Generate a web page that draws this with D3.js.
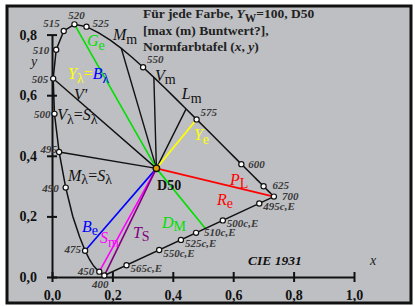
<!DOCTYPE html>
<html>
<head>
<meta charset="utf-8">
<script src="https://cdn.jsdelivr.net/npm/d3@7"></script>
<style>
  body { margin: 0; background: #fff; }
  svg text { font-family: "Liberation Serif", "Times New Roman", serif; }
</style>
</head>
<body>
<div id="chartDivId"></div>
<script>
// CIE 1931 spectral locus (2 deg), 400..700 nm
var waveNm = [400, 405, 410, 415, 420, 425, 430, 435, 440, 445, 450, 455, 460, 465, 470, 475, 480, 485, 490, 495,
    500, 505, 510, 515, 520, 525, 530, 535, 540, 545, 550, 555, 560, 565, 570, 575, 580, 585, 590, 595,
    600, 605, 610, 615, 620, 625, 630, 635, 640, 645, 650, 655, 660, 665, 670, 675, 680, 685, 690, 695, 700];
var locusX = [0.1733, 0.1730, 0.1726, 0.1721, 0.1714, 0.1703, 0.1689, 0.1669, 0.1644, 0.1611, 0.1566, 0.1510, 0.1440, 0.1355, 0.1241, 0.1096, 0.0913, 0.0687, 0.0454, 0.0235,
    0.0082, 0.0039, 0.0139, 0.0389, 0.0743, 0.1142, 0.1547, 0.1929, 0.2296, 0.2658, 0.3016, 0.3373, 0.3731, 0.4087, 0.4441, 0.4788, 0.5125, 0.5448, 0.5752, 0.6029,
    0.6270, 0.6482, 0.6658, 0.6801, 0.6915, 0.7006, 0.7079, 0.7140, 0.7190, 0.7230, 0.7260, 0.7283, 0.7300, 0.7311, 0.7320, 0.7327, 0.7334, 0.7340, 0.7344, 0.7346, 0.7347];
var locusY = [0.0048, 0.0048, 0.0048, 0.0048, 0.0051, 0.0058, 0.0069, 0.0086, 0.0109, 0.0138, 0.0177, 0.0227, 0.0297, 0.0399, 0.0578, 0.0868, 0.1327, 0.2007, 0.2950, 0.4127,
    0.5384, 0.6548, 0.7502, 0.8120, 0.8338, 0.8262, 0.8059, 0.7816, 0.7543, 0.7243, 0.6923, 0.6589, 0.6245, 0.5896, 0.5547, 0.5202, 0.4866, 0.4544, 0.4242, 0.3965,
    0.3725, 0.3514, 0.3340, 0.3197, 0.3083, 0.2993, 0.2920, 0.2859, 0.2809, 0.2770, 0.2740, 0.2717, 0.2700, 0.2689, 0.2680, 0.2673, 0.2666, 0.2660, 0.2656, 0.2654, 0.2653];

// marked wavelengths on the locus
var markedNm = [400, 450, 475, 490, 495, 500, 505, 510, 515, 520, 525, 550, 575, 600, 625, 700];

// complementary points (c,E) on the purple line
var complNames = ["495c,E", "500c,E", "510c,E", "525c,E", "550c,E", "565c,E"];
var complX = [0.6863, 0.5656, 0.4770, 0.4270, 0.3549, 0.2467];
var complY = [0.2428, 0.1868, 0.1457, 0.1225, 0.0890, 0.0388];

var whiteD50 = [0.3457, 0.3585];

// rays from D50: black ones to locus wavelengths
var blackRayNm = [505, 495, 540, 555, 570];
// coloured rays: target wavelength (or purple-line point) and colour
var colorRayNm = [520, 575, 700, 475, 450, 400];
var colorRayCol = ["#00e000", "#ffff00", "#ff0000", "#0000ff", "#ff00ff", "#800080"];
var greenPurplePt = [0.508, 0.160];

var xTicks = [0, 0.2, 0.4, 0.6, 0.8, 1.0];
var yTicks = [0, 0.2, 0.4, 0.6, 0.8];

var svg = d3.select("#chartDivId").append("svg")
    .attr("width", 415)
    .attr("height", 306);

svg.append("rect")
    .attr("x", 7).attr("y", 6)
    .attr("width", 404).attr("height", 297)
    .style("fill", "#bebfc3")
    .style("stroke", "#111")
    .style("stroke-width", 3);

var x = d3.scaleLinear().domain([0, 1]).range([52, 354]);
var y = d3.scaleLinear().domain([0, 0.8]).range([277, 34.6]);

var fmt = function(d) { return d3.format(".1f")(d).replace(".", ","); };

// axes
var xAxis = svg.append("g")
    .attr("transform", "translate(0," + y(0) + ")")
    .call(d3.axisBottom(x).tickValues(xTicks).tickFormat(fmt).tickSizeOuter(0));
var yAxis = svg.append("g")
    .attr("transform", "translate(" + x(0) + ",0)")
    .call(d3.axisLeft(y).tickValues(yTicks).tickFormat(fmt).tickSizeOuter(0));

[xAxis, yAxis].forEach(function(a) {
    a.select(".domain").style("stroke", "#111").style("stroke-width", 2);
    a.selectAll(".tick line").style("stroke", "#111").style("stroke-width", 2);
    a.selectAll(".tick text")
        .style("font-family", "Liberation Serif")
        .style("font-size", "14px")
        .style("font-weight", "bold")
        .style("fill", "#111");
});
xAxis.selectAll(".tick line").attr("y1", -5).attr("y2", 5);
xAxis.selectAll(".tick text").attr("y", 13);
yAxis.selectAll(".tick line").attr("x1", -5).attr("x2", 5);
yAxis.selectAll(".tick text").attr("x", -15);

function locusPt(nm) {
    var i = waveNm.indexOf(nm);
    return [locusX[i], locusY[i]];
}

// rays from D50
var rays = svg.append("g");
blackRayNm.forEach(function(nm) {
    var p = locusPt(nm);
    rays.append("line")
        .attr("x1", x(whiteD50[0])).attr("y1", y(whiteD50[1]))
        .attr("x2", x(p[0])).attr("y2", y(p[1]))
        .style("stroke", "#111").style("stroke-width", 1.4);
});
rays.append("line")
    .attr("x1", x(whiteD50[0])).attr("y1", y(whiteD50[1]))
    .attr("x2", x(greenPurplePt[0])).attr("y2", y(greenPurplePt[1]))
    .style("stroke", "#00e000").style("stroke-width", 1.6);
colorRayNm.forEach(function(nm, i) {
    var p = locusPt(nm);
    rays.append("line")
        .attr("x1", x(whiteD50[0])).attr("y1", y(whiteD50[1]))
        .attr("x2", x(p[0])).attr("y2", y(p[1]))
        .style("stroke", colorRayCol[i]).style("stroke-width", 1.6);
});

// spectral locus + purple line
var locusPts = waveNm.map(function(nm, i) { return [locusX[i], locusY[i]]; });
var line = d3.line().x(function(d) { return x(d[0]); }).y(function(d) { return y(d[1]); });
svg.append("path")
    .attr("d", line(locusPts) + "Z")
    .style("fill", "none")
    .style("stroke", "#111")
    .style("stroke-width", 1.5);

// point markers
var markPts = markedNm.map(locusPt).concat(complX.map(function(v, i) { return [v, complY[i]]; }));
svg.selectAll("circle.mark")
    .data(markPts)
    .enter().append("circle")
    .attr("class", "mark")
    .attr("cx", function(d) { return x(d[0]); })
    .attr("cy", function(d) { return y(d[1]); })
    .attr("r", 2.6)
    .style("fill", "#fff")
    .style("stroke", "#111")
    .style("stroke-width", 1.2);

svg.append("circle")
    .attr("cx", x(whiteD50[0])).attr("cy", y(whiteD50[1]))
    .attr("r", 3.2)
    .style("fill", "#e0a000")
    .style("stroke", "#111")
    .style("stroke-width", 1.4);

// wavelength labels: offsets in px and anchor
var nmLabelPos = {
    400: [-4, 12, "middle"], 450: [-5, 3, "end"], 475: [-4, 2, "end"], 490: [-7, 4, "end"],
    495: [-2, 1, "end"], 500: [-4, 4, "end"], 505: [-5, 4, "end"], 510: [-7, 4, "end"],
    515: [-4, -4, "end"], 520: [2, -5, "middle"], 525: [6, 0, "start"], 550: [4, -4, "start"],
    575: [4, -3, "start"], 600: [7, 4, "start"], 625: [9, 3, "start"], 700: [8, 3, "start"]
};
var small = svg.append("g")
    .style("font-size", "11px")
    .style("font-style", "italic")
    .style("font-weight", "bold")
    .style("fill", "#3a3a3a");
markedNm.forEach(function(nm) {
    var p = locusPt(nm), o = nmLabelPos[nm];
    small.append("text")
        .attr("x", x(p[0]) + o[0]).attr("y", y(p[1]) + o[1])
        .attr("text-anchor", o[2])
        .text(nm);
});
complNames.forEach(function(name, i) {
    var dx = name == "510c,E" ? 8 : 4, dy = name == "510c,E" ? 3 : 7;
    small.append("text")
        .attr("x", x(complX[i]) + dx).attr("y", y(complY[i]) + dy)
        .text(name);
});

// rich labels: parts = [text, kind, colour], kind i=italic, s=subscript, n=normal
function richLabel(g, px, py, parts, size) {
    var t = g.append("text").attr("x", px).attr("y", py).style("font-size", size + "px");
    var shift = 0;
    parts.forEach(function(p) {
        var target = p[1] == "s" ? 3.5 : 0;
        t.append("tspan")
            .attr("dy", target - shift)
            .style("font-style", p[1] == "i" ? "italic" : "normal")
            .style("font-size", p[1] == "s" ? (size - 2) + "px" : size + "px")
            .style("fill", p[2])
            .text(p[0]);
        shift = target;
    });
    return t;
}

var G = "#00e000", Y = "#ffff00", B = "#0000ff", K = "#111", R = "#ff0000", M = "#ff00ff", P = "#800080";
var labels = [
    [0.116, 0.762, [["G", "i", G], ["e", "s", G]]],
    [0.202, 0.782, [["M", "i", K], ["m", "s", K]]],
    [0.053, 0.653, [["Y", "i", Y], ["λ", "s", Y], ["=", "n", Y], ["B", "i", B], ["λ", "s", B]]],
    [0.341, 0.647, [["V", "i", K], ["m", "s", K]]],
    [0.430, 0.587, [["L", "i", K], ["m", "s", K]]],
    [0.073, 0.584, [["V'", "i", K]]],
    [0.017, 0.518, [["V", "i", K], ["λ", "s", K], ["=", "n", K], ["S", "i", K], ["λ", "s", K]]],
    [0.053, 0.317, [["M", "i", K], ["λ", "s", K], ["=", "n", K], ["S", "i", K], ["λ", "s", K]]],
    [0.470, 0.452, [["Y", "i", Y], ["e", "s", Y]]],
    [0.589, 0.304, [["P", "i", R], ["L", "s", R]]],
    [0.546, 0.238, [["R", "i", R], ["e", "s", R]]],
    [0.364, 0.162, [["D", "i", G], ["M", "s", G]]],
    [0.099, 0.149, [["B", "i", B], ["e", "s", B]]],
    [0.159, 0.112, [["S", "i", M], ["m", "s", M]]],
    [0.268, 0.129, [["T", "i", P], ["S", "s", P]]]
];
var lab = svg.append("g");
labels.forEach(function(l) { richLabel(lab, x(l[0]), y(l[1]), l[2], 16); });

svg.append("text")
    .attr("x", x(0.348)).attr("y", y(0.287))
    .style("font-size", "14px").style("font-weight", "bold").style("fill", "#111")
    .text("D50");

// title
var title = svg.append("g").style("font-weight", "bold").style("fill", "#222");
richLabel(title, 143, 18, [["Für jede Farbe, ", "n", "#222"], ["Y", "i", "#222"], ["W", "s", "#222"], ["=100, D50", "n", "#222"]], 13.5);
richLabel(title, 143, 35, [["[max (m) Buntwert?],", "n", "#222"]], 13.5);
richLabel(title, 143, 51, [["Normfarbtafel (", "n", "#222"], ["x", "i", "#222"], [", ", "n", "#222"], ["y", "i", "#222"], [")", "n", "#222"]], 13.5);

svg.append("text")
    .attr("x", 248).attr("y", 265)
    .style("font-size", "13.5px").style("font-weight", "bold").style("font-style", "italic").style("fill", "#111")
    .text("CIE 1931");

svg.append("text").attr("x", 370).attr("y", 265)
    .style("font-size", "14px").style("font-style", "italic").style("fill", "#222").text("x");
svg.append("text").attr("x", 31).attr("y", 66)
    .style("font-size", "14px").style("font-style", "italic").style("fill", "#222").text("y");
</script>
</body>
</html>
